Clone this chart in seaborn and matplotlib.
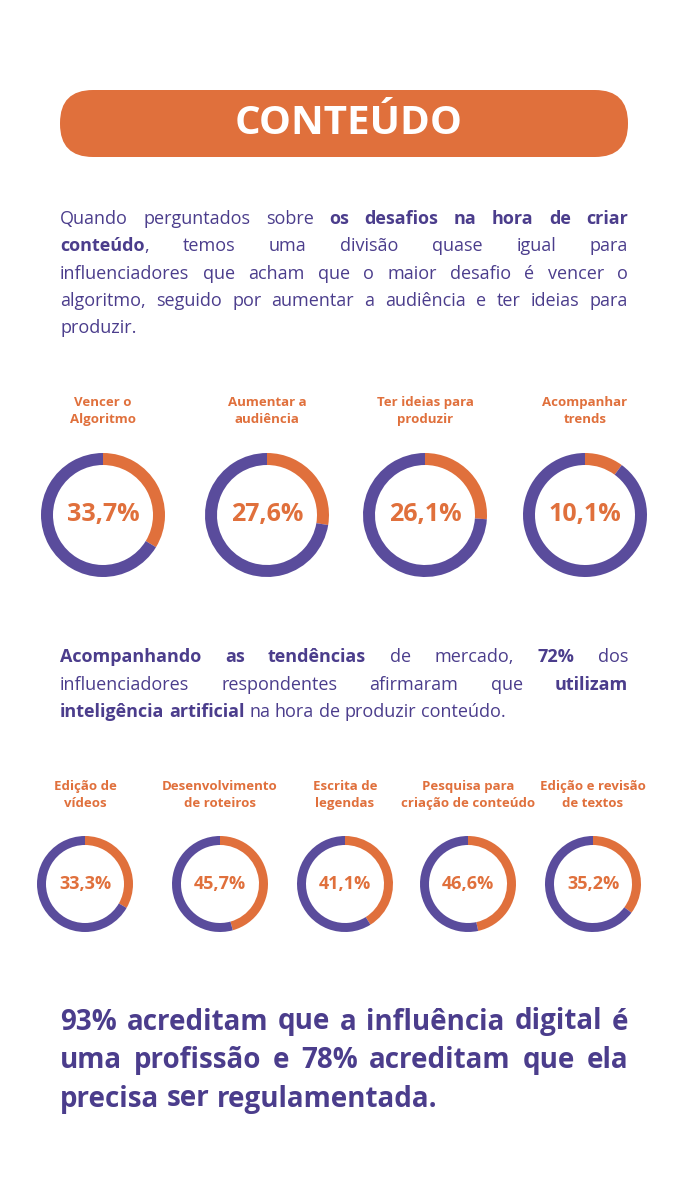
import matplotlib
matplotlib.use("Agg")
import matplotlib.pyplot as plt
import seaborn as sns
from matplotlib.patches import FancyBboxPatch

ORANGE = "#E0703C"
PURPLE = "#5A4C9C"
TEXT = "#4B3D8C"

title = "CONTEÚDO"
intro_lines = [
    "Quando perguntados sobre **os desafios na hora de criar**",
    "**conteúdo**, temos uma divisão quase igual para",
    "influenciadores que acham que o maior desafio é vencer o",
    "algoritmo, seguido por aumentar a audiência e ter ideias para",
    "produzir.",
]
challenge_labels = ["Vencer o\nAlgoritmo", "Aumentar a\naudiência", "Ter ideias para\nproduzir", "Acompanhar\ntrends"]
challenge_values = [33.7, 27.6, 26.1, 10.1]
ai_lines = [
    "**Acompanhando as tendências** de mercado, **72%** dos",
    "influenciadores respondentes afirmaram que **utilizam**",
    "**inteligência artificial** na hora de produzir conteúdo.",
]
ai_labels = ["Edição de\nvídeos", "Desenvolvimento\nde roteiros", "Escrita de\nlegendas",
             "Pesquisa para\ncriação de conteúdo", "Edição e revisão\nde textos"]
ai_values = [33.3, 45.7, 41.1, 46.6, 35.2]
final_lines = [
    "93% acreditam que a influência digital é",
    "uma profissão e 78% acreditam que ela",
    "precisa ser regulamentada.",
]

W, H = 678, 1186
sns.set_theme(style="white")
plt.rcParams["font.family"] = ["Open Sans", "DejaVu Sans"]

fig = plt.figure(figsize=(W / 100, H / 100), dpi=100)
ax = fig.add_axes([0, 0, 1, 1])
ax.set_xlim(0, W)
ax.set_ylim(H, 0)
ax.axis("off")
renderer = fig.canvas.get_renderer()


def parse(line):
    # split a line with **bold** markup into words made of (text, bold) runs
    words, cur, bold, i = [], [], False, 0
    buf = ""
    while i < len(line):
        if line.startswith("**", i):
            if buf:
                cur.append((buf, bold))
                buf = ""
            bold = not bold
            i += 2
            continue
        ch = line[i]
        if ch == " ":
            if buf:
                cur.append((buf, bold))
                buf = ""
            if cur:
                words.append(cur)
            cur = []
        else:
            buf += ch
        i += 1
    if buf:
        cur.append((buf, bold))
    if cur:
        words.append(cur)
    return words


def paragraph(lines, x0, x1, y0, dy, size, all_bold=False):
    for k, line in enumerate(lines):
        y = y0 + k * dy
        words = parse(line)
        objs, widths = [], []
        for w in words:
            runs = []
            wsum = 0
            for s, b in w:
                t = ax.text(0, y, s, fontsize=size, color=TEXT, va="center",
                            fontweight="bold" if (b or all_bold) else "normal")
                bw = t.get_window_extent(renderer).width
                runs.append((t, bw))
                wsum += bw
            objs.append(runs)
            widths.append(wsum)
        space = ax.text(0, 0, "a a", fontsize=size).get_window_extent(renderer).width - \
            2 * ax.text(0, 0, "a", fontsize=size).get_window_extent(renderer).width
        last = k == len(lines) - 1
        if last or len(words) < 2:
            gap = space
        else:
            gap = (x1 - x0 - sum(widths)) / (len(words) - 1)
        x = x0
        for runs, wsum in zip(objs, widths):
            xx = x
            for t, bw in runs:
                t.set_x(xx)
                xx += bw
            x += wsum + gap
    for t in list(ax.texts):
        if t.get_text() in ("a a", "a") and t.get_position() == (0, 0):
            t.remove()


def donut(cx, cy, r, ring, value, label, label_y, lsize, vsize):
    a = fig.add_axes([(cx - r) / W, 1 - (cy + r) / H, 2 * r / W, 2 * r / H])
    a.pie([value, 100 - value], colors=[ORANGE, PURPLE], startangle=90,
          counterclock=False, wedgeprops=dict(width=ring / r, linewidth=0))
    a.set_xlim(-1, 1)
    a.set_ylim(-1, 1)
    a.text(0, 0, f"{value:.1f}".replace(".", ",") + "%", ha="center", va="center",
           fontsize=vsize, fontweight="bold", color=ORANGE)
    ax.text(cx, label_y, label, ha="center", va="center", fontsize=lsize,
            fontweight="bold", color=ORANGE, linespacing=1.4)


# header
ax.add_patch(FancyBboxPatch((94, 90), 500, 67, boxstyle="round,pad=0,rounding_size=33",
                            mutation_aspect=1, fc=ORANGE, ec="none"))
ax.add_patch(FancyBboxPatch((60, 90), 568, 67, boxstyle="round,pad=0,rounding_size=33",
                            fc=ORANGE, ec="none"))
ax.text(W / 2 + 10, 124, title, ha="center", va="center", fontsize=29,
        fontweight="bold", color="white")

paragraph(intro_lines, 60, 628, 219, 27.3, 13)

for cx, v, lab in zip([103, 267, 425, 585], challenge_values, challenge_labels):
    donut(cx, 515, 62, 12, v, lab, 411, 9.5, 18)

paragraph(ai_lines, 60, 628, 657, 27.5, 13)

for cx, v, lab in zip([85, 220, 345, 468, 593], ai_values, ai_labels):
    donut(cx, 884, 48, 9, v, lab, 795, 9.5, 13)

paragraph(final_lines, 60, 628, 1022, 38.5, 20, all_bold=True)

fig.savefig("out.png", dpi=100, facecolor="white")
